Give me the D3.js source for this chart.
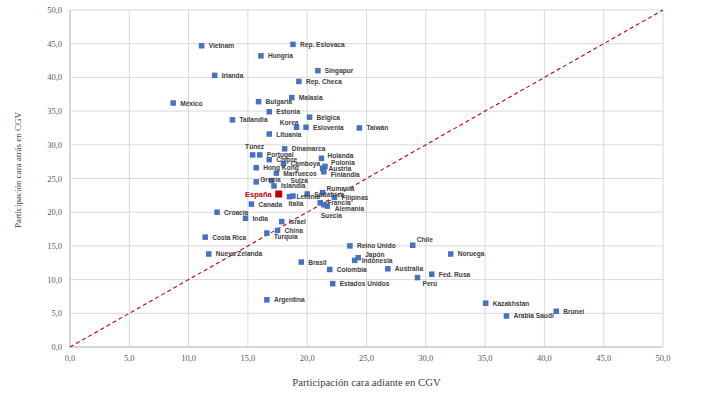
<!DOCTYPE html>
<html>
<head>
<meta charset="utf-8">
<script src="https://cdn.jsdelivr.net/npm/d3@7"></script>
<style>
  body { margin: 0; background: #fff; }
  .tick-label { font-family: "Liberation Serif", "Times New Roman", serif; font-size: 8.5px; fill: #595959; }
  .axis-title { font-family: "Liberation Serif", "Times New Roman", serif; fill: #404040; }
  .pt-label { font-family: "Liberation Sans", Arial, sans-serif; font-size: 6.6px; font-weight: bold; fill: #404040; }
</style>
</head>
<body>
<div id="chart"></div>
<script>
// countries and their participation (forward, backward) in global value chains
var countries = ["Vietnam", "Rep. Eslovaca", "Hungría", "Singapur", "Irlanda", "Rep. Checa", "Malasia", "México",
  "Bulgaria", "Estonia", "Bélgica", "Tailandia", "Korea", "Eslovenia", "Taiwán", "Lituania",
  "Dinamarca", "Túnez", "Portugal", "Chipre", "Holanda", "Camboya", "Hong Kong", "Polonia", "Austria",
  "Marruecos", "Finlandia", "Grecia", "Suiza", "Islandia", "España", "Letonia", "Italia", "Sudáfrica",
  "Rumania", "Filipinas", "Francia", "Alemania", "Suecia", "Canada", "Croacia", "India", "Israel",
  "China", "Turquía", "Costa Rica", "Nueva Zelanda", "Reino Unido", "Chile", "Noruega", "Japón",
  "Indonesia", "Brasil", "Colombia", "Australia", "Fed. Rusa", "Perú", "Estados Unidos",
  "Argentina", "Kazakhstan", "Arabia Saudí", "Brunei"];

var forward = [11.1, 18.8, 16.1, 20.9, 12.2, 19.3, 18.7, 8.7,
  15.9, 16.8, 20.2, 13.7, 19.1, 19.9, 24.4, 16.8,
  18.1, 15.4, 16.0, 16.8, 21.2, 18.0, 15.7, 21.5, 21.3,
  17.4, 21.4, 15.7, 17.0, 17.2, 17.6, 18.5, 18.8, 20.0,
  21.3, 22.3, 21.1, 21.4, 21.7, 15.3, 12.4, 14.8, 17.85,
  17.5, 16.6, 11.4, 11.7, 23.6, 28.9, 32.1, 24.3,
  24.0, 19.5, 21.9, 26.8, 30.5, 29.3, 22.15,
  16.6, 35.05, 36.8, 41.0];

var backward = [44.7, 44.9, 43.2, 41.0, 40.3, 39.4, 37.0, 36.2,
  36.4, 34.9, 34.1, 33.7, 32.6, 32.6, 32.5, 31.6,
  29.4, 28.5, 28.5, 27.8, 28.0, 27.2, 26.6, 26.8, 26.5,
  25.8, 26.0, 24.5, 24.7, 23.9, 22.7, 22.3, 22.4, 22.7,
  22.9, 22.2, 21.4, 21.1, 20.9, 21.2, 20.0, 19.1, 18.6,
  17.3, 16.9, 16.3, 13.8, 15.0, 15.1, 13.8, 13.25,
  12.85, 12.6, 11.5, 11.6, 10.8, 10.3, 9.4,
  7.0, 6.5, 4.6, 5.3];

var highlight = "España";
var xTicks = [0, 5, 10, 15, 20, 25, 30, 35, 40, 45, 50];
var yTicks = [0, 5, 10, 15, 20, 25, 30, 35, 40, 45, 50];
var xTitle = "Participación cara adiante en CGV";
var yTitle = "Participación cara atrás en CGV";

// labels that were dragged away from the default right-hand spot
var labelNudge = {
  "Túnez":     {dx: 2,  dy: -8, anchor: "middle"},
  "Korea":     {dx: 2,  dy: -5, anchor: "end"},
  "España":    {dx: -7, dy: 0,  anchor: "end"},
  "Suiza":     {dx: 19, dy: 0},
  "Italia":    {dx: 3,  dy: 7,  anchor: "middle"},
  "Suecia":    {dx: 4,  dy: 9,  anchor: "middle"},
  "Perú":      {dx: 5,  dy: 6},
  "Chile":     {dx: 4,  dy: -6},
  "Rumania":   {dx: 4,  dy: -4},
  "Alemania":  {dx: 11, dy: 4},
  "Holanda":   {dx: 6,  dy: -3},
  "Japón":     {dx: 7,  dy: -3},
  "Turquía":   {dx: 7,  dy: 3},
  "Grecia":    {dx: 4,  dy: -2},
  "Polonia":   {dx: 6,  dy: -3.5},
  "Austria":   {dx: 6,  dy: 0.5},
  "Finlandia": {dx: 7,  dy: 2.5}
};

var width = 705, height = 394;
var margin = {top: 10, right: 42, bottom: 47, left: 70};

var svg = d3.select("#chart").append("svg")
    .attr("width", width)
    .attr("height", height);

var x = d3.scaleLinear().domain([0, 50]).range([margin.left, width - margin.right]);
var y = d3.scaleLinear().domain([0, 50]).range([height - margin.bottom, margin.top]);

var data = countries.map(function(c, i) {
    return {name: c, x: forward[i], y: backward[i]};
});

// gridlines
svg.append("g").selectAll("line").data(xTicks).enter().append("line")
    .attr("x1", function(d) { return x(d); }).attr("x2", function(d) { return x(d); })
    .attr("y1", y(0)).attr("y2", y(50))
    .attr("stroke", "#d9d9d9").attr("stroke-width", 1);
svg.append("g").selectAll("line").data(yTicks).enter().append("line")
    .attr("x1", x(0)).attr("x2", x(50))
    .attr("y1", function(d) { return y(d); }).attr("y2", function(d) { return y(d); })
    .attr("stroke", "#d9d9d9").attr("stroke-width", 1);

// axis lines
svg.append("line").attr("x1", x(0)).attr("x2", x(50)).attr("y1", y(0)).attr("y2", y(0))
    .attr("stroke", "#bfbfbf");
svg.append("line").attr("x1", x(0)).attr("x2", x(0)).attr("y1", y(0)).attr("y2", y(50))
    .attr("stroke", "#bfbfbf");

var fmt = function(d) { return d3.format(".1f")(d).replace(".", ","); };

svg.append("g").selectAll("text").data(xTicks).enter().append("text")
    .attr("class", "tick-label")
    .attr("x", function(d) { return x(d); })
    .attr("y", y(0) + 14)
    .attr("text-anchor", "middle")
    .text(fmt);

svg.append("g").selectAll("text").data(yTicks).enter().append("text")
    .attr("class", "tick-label")
    .attr("x", x(0) - 8)
    .attr("y", function(d) { return y(d) + 3; })
    .attr("text-anchor", "end")
    .text(fmt);

// 45 degree reference line
svg.append("line")
    .attr("x1", x(0)).attr("y1", y(0))
    .attr("x2", x(50)).attr("y2", y(50))
    .attr("stroke", "#c00000")
    .attr("stroke-width", 1.1)
    .attr("stroke-dasharray", "4,3");

// points
svg.append("g").selectAll("rect").data(data).enter().append("rect")
    .attr("x", function(d) { var s = d.name == highlight ? 7 : 5.5; return x(d.x) - s / 2; })
    .attr("y", function(d) { var s = d.name == highlight ? 7 : 5.5; return y(d.y) - s / 2; })
    .attr("width", function(d) { return d.name == highlight ? 7 : 5.5; })
    .attr("height", function(d) { return d.name == highlight ? 7 : 5.5; })
    .attr("fill", function(d) { return d.name == highlight ? "#c00000" : "#4472c4"; });

// labels
svg.append("g").selectAll("text").data(data).enter().append("text")
    .attr("class", "pt-label")
    .attr("x", function(d) { var n = labelNudge[d.name]; return x(d.x) + (n ? n.dx : 7); })
    .attr("y", function(d) { var n = labelNudge[d.name]; return y(d.y) + (n ? n.dy : 0) + 2.5; })
    .attr("text-anchor", function(d) { var n = labelNudge[d.name]; return n && n.anchor ? n.anchor : "start"; })
    .style("fill", function(d) { return d.name == highlight ? "#c00000" : null; })
    .style("font-size", function(d) { return d.name == highlight ? "7.5px" : null; })
    .text(function(d) { return d.name; });

// axis titles
svg.append("text")
    .attr("class", "axis-title")
    .attr("x", (x(0) + x(50)) / 2)
    .attr("y", 386)
    .attr("text-anchor", "middle")
    .style("font-size", "10.7px")
    .text(xTitle);

svg.append("text")
    .attr("class", "axis-title")
    .attr("transform", "translate(21," + 170 + ") rotate(-90)")
    .attr("text-anchor", "middle")
    .style("font-size", "9px")
    .text(yTitle);
</script>
</body>
</html>
